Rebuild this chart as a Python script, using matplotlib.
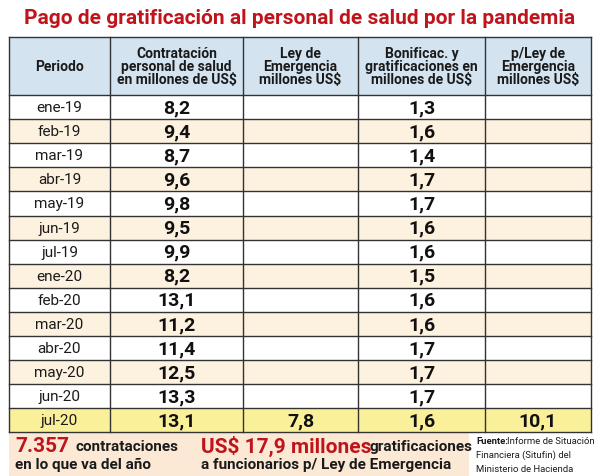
import matplotlib
matplotlib.use("Agg")
import matplotlib.pyplot as plt
from matplotlib.patches import Rectangle

plt.rcParams["font.family"] = ["Roboto", "DejaVu Sans"]

periods = ["ene-19", "feb-19", "mar-19", "abr-19", "may-19", "jun-19", "jul-19",
           "ene-20", "feb-20", "mar-20", "abr-20", "may-20", "jun-20", "jul-20"]
contratacion = ["8,2", "9,4", "8,7", "9,6", "9,8", "9,5", "9,9",
                "8,2", "13,1", "11,2", "11,4", "12,5", "13,3", "13,1"]
ley_emergencia = [""] * 13 + ["7,8"]
bonificac = ["1,3", "1,6", "1,4", "1,7", "1,7", "1,6", "1,6",
             "1,5", "1,6", "1,6", "1,7", "1,7", "1,7", "1,6"]
p_ley = [""] * 13 + ["10,1"]
headers = ["Periodo", "Contratación\npersonal de salud\nen millones de US$",
           "Ley de\nEmergencia\nmillones US$", "Bonificac. y\ngratificaciones en\nmillones de US$",
           "p/Ley de\nEmergencia\nmillones US$"]

col_x = [9, 110, 243, 358, 485, 591]
head_top, head_bot = 37, 95
row_h = 24.1

fig = plt.figure(figsize=(6, 4.76), dpi=100)
ax = fig.add_axes([0, 0, 1, 1])
ax.set_xlim(0, 600)
ax.set_ylim(476, 0)
ax.axis("off")

ax.text(300, 18, "Pago de gratificación al personal de salud por la pandemia",
        ha="center", va="center", color="#c0141c", fontsize=15, fontweight="bold")

# header
ax.add_patch(Rectangle((col_x[0], head_top), col_x[-1] - col_x[0], head_bot - head_top,
                       facecolor="#d3e3ef", edgecolor="none"))
for i, h in enumerate(headers):
    ax.text((col_x[i] + col_x[i + 1]) / 2, (head_top + head_bot) / 2 + 1, h, ha="center",
            va="center", fontsize=10, fontweight="bold", color="#1a1a1a", linespacing=0.95)

cols = [contratacion, ley_emergencia, bonificac, p_ley]
n = len(periods)
for r in range(n):
    y0 = head_bot + r * row_h
    if r == n - 1:
        fc = "#fbf09a"
    elif r % 2 == 1:
        fc = "#fdf1df"
    else:
        fc = "white"
    ax.add_patch(Rectangle((col_x[0], y0), col_x[-1] - col_x[0], row_h, facecolor=fc, edgecolor="none"))
    yc = y0 + row_h / 2
    ax.text((col_x[0] + col_x[1]) / 2, yc + 1, periods[r], ha="center", va="center",
            fontsize=11, color="#1a1a1a")
    for c, vals in enumerate(cols):
        ax.text((col_x[c + 1] + col_x[c + 2]) / 2, yc + 1, vals[r], ha="center", va="center",
                fontsize=14, fontweight="bold", color="#111111")

bottom = head_bot + n * row_h
for x in col_x:
    ax.plot([x, x], [head_top, bottom], color="#333333", lw=1)
for k in range(n + 1):
    y = head_bot + k * row_h
    ax.plot([col_x[0], col_x[-1]], [y, y], color="#333333", lw=1)
ax.plot([col_x[0], col_x[-1]], [head_top, head_top], color="#333333", lw=1)

# footer
ax.add_patch(Rectangle((9, bottom + 1), 460, 476 - bottom, facecolor="#fbe9d5", edgecolor="none"))
ax.text(15, 446, "7.357", color="#c0141c", fontsize=15, fontweight="bold", va="center")
ax.text(75, 447, "contrataciones", color="#1a1a1a", fontsize=11, fontweight="bold", va="center")
ax.text(15, 465, "en lo que va del año", color="#1a1a1a", fontsize=11, fontweight="bold", va="center")
ax.text(201, 446, "US$ 17,9 millones", color="#c0141c", fontsize=15, fontweight="bold", va="center")
ax.text(369, 447, "gratificaciones", color="#1a1a1a", fontsize=11, fontweight="bold", va="center")
ax.text(201, 465, "a funcionarios p/ Ley de Emergencia", color="#1a1a1a", fontsize=11,
        fontweight="bold", va="center")
ax.text(476, 441, "Fuente:", fontsize=6.8, fontweight="bold", va="center", color="#1a1a1a")
ax.text(507, 441, "Informe de Situación", fontsize=6.8, va="center", color="#1a1a1a")
ax.text(476, 455, "Financiera (Situfin) del", fontsize=6.8, va="center", color="#1a1a1a")
ax.text(476, 469, "Ministerio de Hacienda", fontsize=6.8, va="center", color="#1a1a1a")

fig.savefig("out.png", dpi=100)
